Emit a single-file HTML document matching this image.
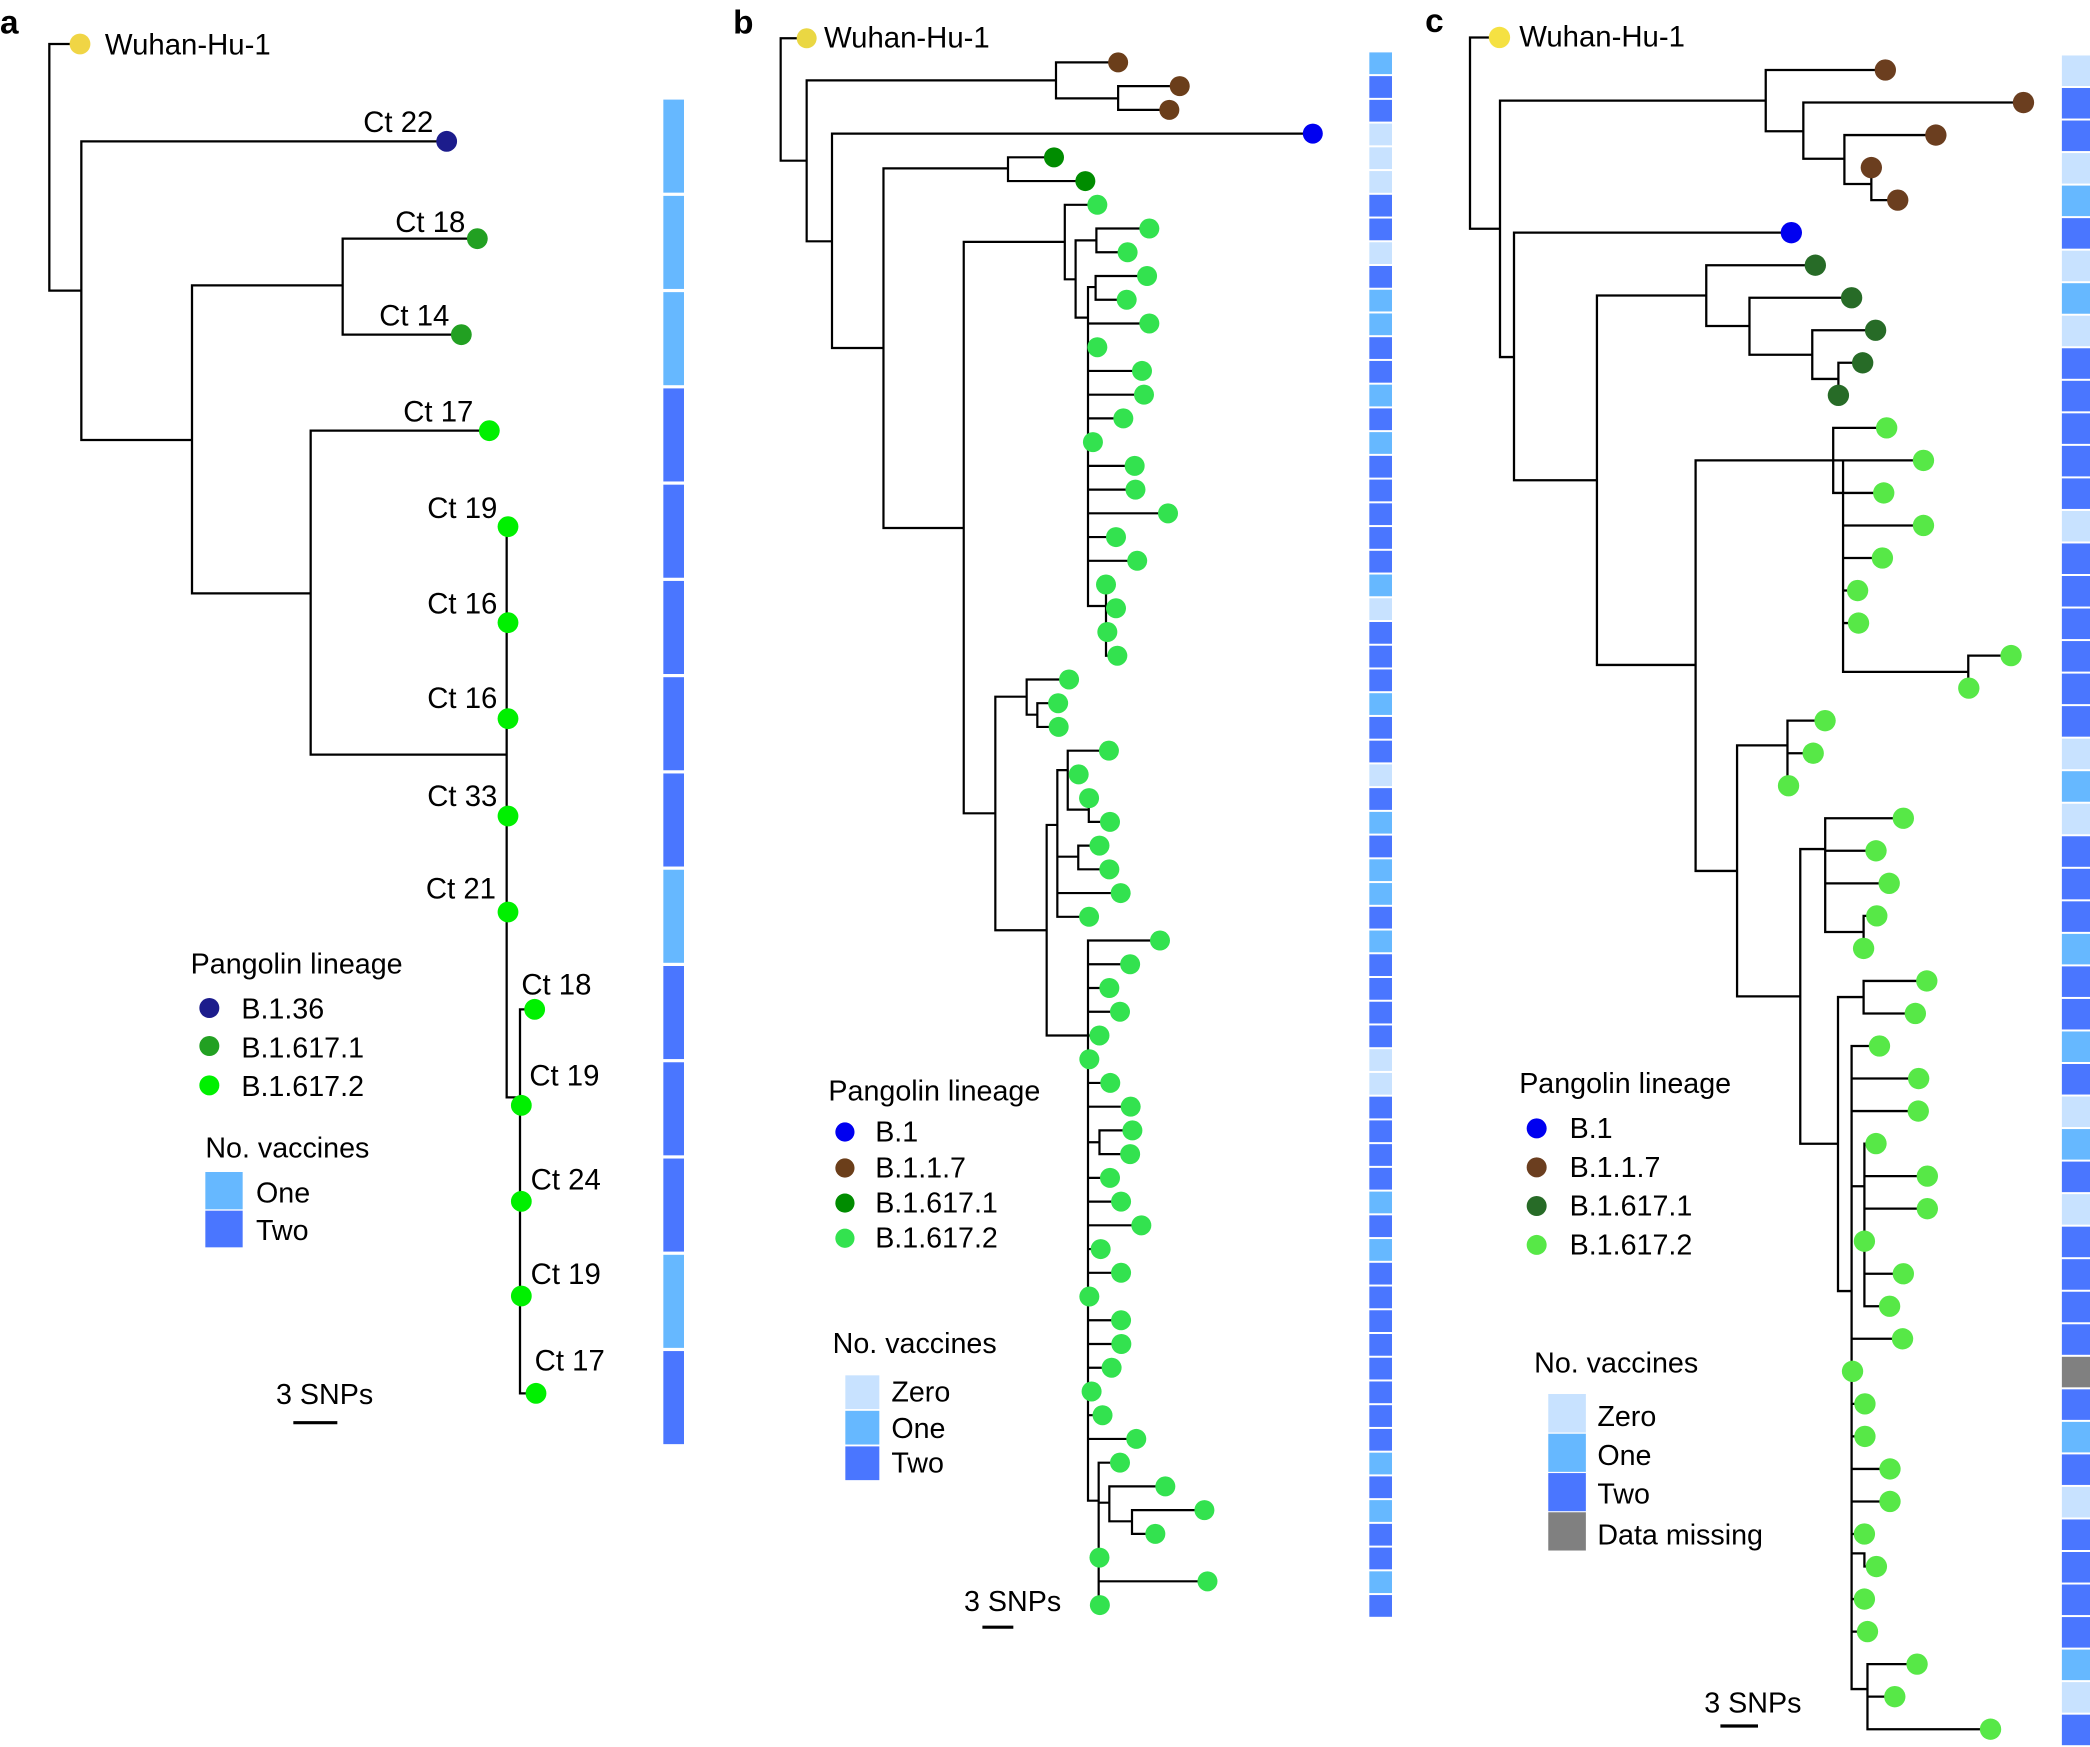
<!DOCTYPE html>
<html><head><meta charset="utf-8"><style>
html,body{margin:0;padding:0;background:#fff;}
svg{display:block;}
text{font-family:"Liberation Sans",Arial,sans-serif;fill:#000;}
.t{font-size:22px;}
.l{font-size:21.5px;}
.h{font-size:25px;font-weight:bold;}
.e{text-anchor:end;}
</style></head><body>
<svg width="2090" height="1747" viewBox="0 0 1567.5 1310.25" xmlns="http://www.w3.org/2000/svg">
<rect x="0" y="0" width="1567.5" height="1310.25" fill="#fff"/>
<!-- Panel labels -->
<text class="h" x="0" y="25">a</text>
<text class="h" x="549.8" y="25">b</text>
<text class="h" x="1068.8" y="24">c</text>

<!-- ================= PANEL A ================= -->
<path fill="none" stroke="#000" stroke-width="1.7" stroke-linecap="square" d="M37,33H60 M37,33V218 M37,218H61 M61,106V330 M61,106H335 M61,330H144 M144,214V445 M144,214H257 M257,179V251 M257,179H358 M257,251H346 M144,445H233 M233,323V566 M233,323H367 M233,566H380 M380,395V823 M380,823H390 M390,757V1045 M390,757H401 M390,1045H402"/>
<g>
<circle cx="60" cy="33" r="7.8" fill="#f0d545"/>
<circle cx="335" cy="106" r="7.8" fill="#1c1c8c"/>
<circle cx="358" cy="179" r="7.8" fill="#22a022"/>
<circle cx="346" cy="251" r="7.8" fill="#22a022"/>
<g fill="#00f000">
<circle cx="367" cy="323" r="7.8"/>
<circle cx="381" cy="395" r="7.8"/>
<circle cx="381" cy="467" r="7.8"/>
<circle cx="381" cy="539" r="7.8"/>
<circle cx="381" cy="612" r="7.8"/>
<circle cx="381" cy="684" r="7.8"/>
<circle cx="401" cy="757" r="7.8"/>
<circle cx="391" cy="829" r="7.8"/>
<circle cx="391" cy="901" r="7.8"/>
<circle cx="391" cy="972" r="7.8"/>
<circle cx="402" cy="1045" r="7.8"/>
</g>
</g>
<text class="t" x="78.7" y="41">Wuhan-Hu-1</text>
<text class="t e" x="325" y="99">Ct 22</text>
<text class="t e" x="349" y="174">Ct 18</text>
<text class="t e" x="337" y="244">Ct 14</text>
<text class="t e" x="355" y="316">Ct 17</text>
<text class="t e" x="373" y="388.5">Ct 19</text>
<text class="t e" x="373" y="460">Ct 16</text>
<text class="t e" x="373" y="531">Ct 16</text>
<text class="t e" x="373" y="604.5">Ct 33</text>
<text class="t e" x="372" y="674">Ct 21</text>
<text class="t" x="391" y="746">Ct 18</text>
<text class="t" x="397" y="814">Ct 19</text>
<text class="t" x="398" y="892">Ct 24</text>
<text class="t" x="398" y="963">Ct 19</text>
<text class="t" x="401" y="1028">Ct 17</text>
<!-- legend a -->
<text class="l" x="143" y="730">Pangolin lineage</text>
<circle cx="157" cy="756" r="7.5" fill="#1c1c8c"/>
<circle cx="157" cy="784.5" r="7.5" fill="#22a022"/>
<circle cx="157" cy="814" r="7.5" fill="#00f000"/>
<text class="l" x="181" y="764">B.1.36</text>
<text class="l" x="181" y="793">B.1.617.1</text>
<text class="l" x="181" y="822">B.1.617.2</text>
<text class="l" x="154" y="868">No. vaccines</text>
<rect x="154" y="879" width="28" height="28" fill="#66b8ff"/>
<rect x="154" y="908" width="28" height="27.5" fill="#4a76ff"/>
<text class="l" x="192" y="902">One</text>
<text class="l" x="192" y="930">Two</text>
<text class="l" x="207" y="1053">3 SNPs</text>
<line x1="220" y1="1067" x2="253" y2="1067" stroke="#000" stroke-width="2.4"/>
<!-- vaccine bar a -->
<g>
<rect x="497.5" y="74.7" width="15.5" height="69.8" fill="#66b8ff"/>
<rect x="497.5" y="146.9" width="15.5" height="69.8" fill="#66b8ff"/>
<rect x="497.5" y="219.1" width="15.5" height="69.8" fill="#66b8ff"/>
<rect x="497.5" y="291.3" width="15.5" height="69.8" fill="#4a76ff"/>
<rect x="497.5" y="363.5" width="15.5" height="69.8" fill="#4a76ff"/>
<rect x="497.5" y="435.7" width="15.5" height="69.8" fill="#4a76ff"/>
<rect x="497.5" y="507.9" width="15.5" height="69.8" fill="#4a76ff"/>
<rect x="497.5" y="580.1" width="15.5" height="69.8" fill="#4a76ff"/>
<rect x="497.5" y="652.3" width="15.5" height="69.8" fill="#66b8ff"/>
<rect x="497.5" y="724.5" width="15.5" height="69.8" fill="#4a76ff"/>
<rect x="497.5" y="796.7" width="15.5" height="69.8" fill="#4a76ff"/>
<rect x="497.5" y="868.9" width="15.5" height="69.8" fill="#4a76ff"/>
<rect x="497.5" y="941.1" width="15.5" height="69.8" fill="#66b8ff"/>
<rect x="497.5" y="1013.3" width="15.5" height="69.8" fill="#4a76ff"/>
</g>

<!-- ================= PANEL B ================= -->
<path fill="none" stroke="#000" stroke-width="1.65" stroke-linecap="square" d="M585.5,28.7H605 M585.5,28.7V120.5 M585.5,120.5H605 M605,60.3V181 M605,60.3H792 M792,46.8V73.8 M792,46.8H838.6 M792,73.8H838.6 M838.6,64.6V82.4 M838.6,64.6H884.8 M838.6,82.4H877 M605,181H624 M624,100.2V261 M624,100.2H984.6 M624,261H662.6 M662.6,126.3V396 M662.6,126.3H756 M756,118V135.8 M756,118H790.5 M756,135.8H814 M662.6,396H722.8 M722.8,181.4V610 M722.8,181.4H798.6 M798.6,153.6V209.5 M798.6,153.6H823 M798.6,209.5H806.7 M806.7,180.3V238.2 M806.7,180.3H822.3 M822.3,171.4V189.2 M822.3,171.4H862 M822.3,189.2H845.7 M806.7,238.2H816
M816,215.3V454.5 M816,215.3H821.7 M821.7,207V224.8 M821.7,207H860.3 M821.7,224.8H845 M816,242.6H862 M816,260.4H823 M816,278.2H856.5 M816,296H858 M816,313.8H842.5 M816,331.6H819.7 M816,349.4H851 M816,367.2H851.6 M816,385H876 M816,402.8H837 M816,420.6H852.9
M816,454.5H829.5 M829.5,438.4V491.8 M829.5,456.2H837 M829.5,491.8H838
M722.8,610H746.5 M746.5,522.5V697.7 M746.5,522.5H770 M770,509.6V536 M770,509.6H801.8 M770,536H778 M778,527.4V545.2 M778,527.4H793.6 M778,545.2H794
M746.5,697.7H785 M785,618.7V776.6 M785,618.7H793 M793,577.6V687.6 M793,577.6H800.8 M800.8,563V607.2 M800.8,563H831.7 M800.8,580.8H809 M800.8,607.2H816.6 M816.6,598.6V616.4 M816.6,616.4H832.5 M793,642.5H808.7 M808.7,634.2V652 M808.7,634.2H824.6 M808.7,652H832 M793,669.8H840.5 M793,687.6H816.8
M785,776.6H816 M816,705.4V1125.5 M816,705.4H870 M816,723.2H847.6 M816,741H832 M816,758.8H840 M816,776.6H824.6 M816,812.2H832.7 M816,830H848 M816,856.7H824.6 M824.6,847.8V865.6 M824.6,847.8H849.3 M824.6,865.6H847.6 M816,883.4H832.5 M816,901.2H840.8 M816,919H856 M816,936.8H825.5 M816,954.6H840.8 M816,990.2H840.8 M816,1008H841 M816,1025.8H833.7 M816,1043.6H818.7 M816,1061.4H826.9 M816,1079.2H852.2
M816,1125.5H824 M824,1097V1203.8 M824,1097H840 M824,1127H832 M832,1114.8V1141 M832,1114.8H874 M832,1141H849 M849,1132.6V1150.4 M849,1132.6H903.3 M849,1150.4H866.5 M824,1186H905.6"/>
<circle cx="605" cy="28.7" r="7.5" fill="#ead743"/>
<g fill="#6b3e1a">
<circle cx="838.6" cy="46.8" r="7.5"/><circle cx="884.8" cy="64.6" r="7.5"/><circle cx="877" cy="82.4" r="7.5"/>
</g>
<circle cx="984.6" cy="100.2" r="7.5" fill="#0000f0"/>
<g fill="#008c00"><circle cx="790.5" cy="118" r="7.5"/><circle cx="814" cy="135.8" r="7.5"/></g>
<g fill="#33e24f">
<circle cx="823" cy="153.6" r="7.5"/><circle cx="862" cy="171.4" r="7.5"/><circle cx="845.7" cy="189.2" r="7.5"/><circle cx="860.3" cy="207" r="7.5"/><circle cx="845" cy="224.8" r="7.5"/><circle cx="862" cy="242.6" r="7.5"/><circle cx="823" cy="260.4" r="7.5"/><circle cx="856.5" cy="278.2" r="7.5"/><circle cx="858" cy="296" r="7.5"/><circle cx="842.5" cy="313.8" r="7.5"/><circle cx="819.7" cy="331.6" r="7.5"/><circle cx="851" cy="349.4" r="7.5"/><circle cx="851.6" cy="367.2" r="7.5"/><circle cx="876" cy="385" r="7.5"/><circle cx="837" cy="402.8" r="7.5"/><circle cx="852.9" cy="420.6" r="7.5"/><circle cx="829.5" cy="438.4" r="7.5"/><circle cx="837" cy="456.2" r="7.5"/><circle cx="830.5" cy="474" r="7.5"/><circle cx="838" cy="491.8" r="7.5"/>
<circle cx="801.8" cy="509.6" r="7.5"/><circle cx="793.6" cy="527.4" r="7.5"/><circle cx="794" cy="545.2" r="7.5"/><circle cx="831.7" cy="563" r="7.5"/><circle cx="809" cy="580.8" r="7.5"/><circle cx="816.8" cy="598.6" r="7.5"/><circle cx="832.5" cy="616.4" r="7.5"/><circle cx="824.6" cy="634.2" r="7.5"/><circle cx="832" cy="652" r="7.5"/><circle cx="840.5" cy="669.8" r="7.5"/><circle cx="816.8" cy="687.6" r="7.5"/>
<circle cx="870" cy="705.4" r="7.5"/><circle cx="847.6" cy="723.2" r="7.5"/><circle cx="832" cy="741" r="7.5"/><circle cx="840" cy="758.8" r="7.5"/><circle cx="824.6" cy="776.6" r="7.5"/><circle cx="817" cy="794.4" r="7.5"/><circle cx="832.7" cy="812.2" r="7.5"/><circle cx="848" cy="830" r="7.5"/><circle cx="849.3" cy="847.8" r="7.5"/><circle cx="847.6" cy="865.6" r="7.5"/><circle cx="832.5" cy="883.4" r="7.5"/><circle cx="840.8" cy="901.2" r="7.5"/><circle cx="856" cy="919" r="7.5"/><circle cx="825.5" cy="936.8" r="7.5"/><circle cx="840.8" cy="954.6" r="7.5"/><circle cx="817" cy="972.4" r="7.5"/><circle cx="840.8" cy="990.2" r="7.5"/><circle cx="841" cy="1008" r="7.5"/><circle cx="833.7" cy="1025.8" r="7.5"/><circle cx="818.7" cy="1043.6" r="7.5"/><circle cx="826.9" cy="1061.4" r="7.5"/><circle cx="852.2" cy="1079.2" r="7.5"/><circle cx="840" cy="1097" r="7.5"/><circle cx="874" cy="1114.8" r="7.5"/><circle cx="903.3" cy="1132.6" r="7.5"/><circle cx="866.5" cy="1150.4" r="7.5"/><circle cx="824.6" cy="1168.2" r="7.5"/><circle cx="905.6" cy="1186" r="7.5"/><circle cx="824.9" cy="1203.8" r="7.5"/>
</g>
<text class="t" x="618" y="35.7">Wuhan-Hu-1</text>
<!-- legend b -->
<text class="l" x="621.3" y="825.4">Pangolin lineage</text>
<circle cx="633.7" cy="849" r="7.2" fill="#0000f0"/>
<circle cx="633.7" cy="876" r="7.2" fill="#6b3e1a"/>
<circle cx="633.7" cy="902.3" r="7.2" fill="#008c00"/>
<circle cx="633.7" cy="928.7" r="7.2" fill="#33e24f"/>
<text class="l" x="656.4" y="856">B.1</text>
<text class="l" x="656.4" y="883">B.1.1.7</text>
<text class="l" x="656.4" y="909.3">B.1.617.1</text>
<text class="l" x="656.4" y="935.6">B.1.617.2</text>
<text class="l" x="624.5" y="1014.6">No. vaccines</text>
<rect x="634" y="1031.5" width="25.5" height="25.3" fill="#c8e2ff"/>
<rect x="634" y="1058.1" width="25.5" height="25.3" fill="#66b8ff"/>
<rect x="634" y="1084.8" width="25.5" height="25.3" fill="#4a76ff"/>
<text class="l" x="668.5" y="1051">Zero</text>
<text class="l" x="668.5" y="1078.6">One</text>
<text class="l" x="668.5" y="1104.5">Two</text>
<text class="l" x="723" y="1208.3">3 SNPs</text>
<line x1="736.8" y1="1220.4" x2="760" y2="1220.4" stroke="#000" stroke-width="2.4"/>
<!-- vaccine bar b -->
<g>
<rect x="1027" y="39.3" width="17" height="16.3" fill="#66b8ff"/>
<rect x="1027" y="57.1" width="17" height="16.3" fill="#4a76ff"/>
<rect x="1027" y="74.9" width="17" height="16.3" fill="#4a76ff"/>
<rect x="1027" y="92.7" width="17" height="16.3" fill="#c8e2ff"/>
<rect x="1027" y="110.5" width="17" height="16.3" fill="#c8e2ff"/>
<rect x="1027" y="128.3" width="17" height="16.3" fill="#c8e2ff"/>
<rect x="1027" y="146.1" width="17" height="16.3" fill="#4a76ff"/>
<rect x="1027" y="163.9" width="17" height="16.3" fill="#4a76ff"/>
<rect x="1027" y="181.7" width="17" height="16.3" fill="#c8e2ff"/>
<rect x="1027" y="199.5" width="17" height="16.3" fill="#4a76ff"/>
<rect x="1027" y="217.3" width="17" height="16.3" fill="#66b8ff"/>
<rect x="1027" y="235.1" width="17" height="16.3" fill="#66b8ff"/>
<rect x="1027" y="252.9" width="17" height="16.3" fill="#4a76ff"/>
<rect x="1027" y="270.7" width="17" height="16.3" fill="#4a76ff"/>
<rect x="1027" y="288.5" width="17" height="16.3" fill="#66b8ff"/>
<rect x="1027" y="306.3" width="17" height="16.3" fill="#4a76ff"/>
<rect x="1027" y="324.1" width="17" height="16.3" fill="#66b8ff"/>
<rect x="1027" y="341.9" width="17" height="16.3" fill="#4a76ff"/>
<rect x="1027" y="359.7" width="17" height="16.3" fill="#4a76ff"/>
<rect x="1027" y="377.5" width="17" height="16.3" fill="#4a76ff"/>
<rect x="1027" y="395.3" width="17" height="16.3" fill="#4a76ff"/>
<rect x="1027" y="413.1" width="17" height="16.3" fill="#4a76ff"/>
<rect x="1027" y="430.9" width="17" height="16.3" fill="#66b8ff"/>
<rect x="1027" y="448.7" width="17" height="16.3" fill="#c8e2ff"/>
<rect x="1027" y="466.5" width="17" height="16.3" fill="#4a76ff"/>
<rect x="1027" y="484.3" width="17" height="16.3" fill="#4a76ff"/>
<rect x="1027" y="502.1" width="17" height="16.3" fill="#4a76ff"/>
<rect x="1027" y="519.9" width="17" height="16.3" fill="#66b8ff"/>
<rect x="1027" y="537.7" width="17" height="16.3" fill="#4a76ff"/>
<rect x="1027" y="555.5" width="17" height="16.3" fill="#4a76ff"/>
<rect x="1027" y="573.3" width="17" height="16.3" fill="#c8e2ff"/>
<rect x="1027" y="591.1" width="17" height="16.3" fill="#4a76ff"/>
<rect x="1027" y="608.9" width="17" height="16.3" fill="#66b8ff"/>
<rect x="1027" y="626.7" width="17" height="16.3" fill="#4a76ff"/>
<rect x="1027" y="644.5" width="17" height="16.3" fill="#66b8ff"/>
<rect x="1027" y="662.3" width="17" height="16.3" fill="#66b8ff"/>
<rect x="1027" y="680.1" width="17" height="16.3" fill="#4a76ff"/>
<rect x="1027" y="697.9" width="17" height="16.3" fill="#66b8ff"/>
<rect x="1027" y="715.7" width="17" height="16.3" fill="#4a76ff"/>
<rect x="1027" y="733.5" width="17" height="16.3" fill="#4a76ff"/>
<rect x="1027" y="751.3" width="17" height="16.3" fill="#4a76ff"/>
<rect x="1027" y="769.1" width="17" height="16.3" fill="#4a76ff"/>
<rect x="1027" y="786.9" width="17" height="16.3" fill="#c8e2ff"/>
<rect x="1027" y="804.7" width="17" height="16.3" fill="#c8e2ff"/>
<rect x="1027" y="822.5" width="17" height="16.3" fill="#4a76ff"/>
<rect x="1027" y="840.3" width="17" height="16.3" fill="#4a76ff"/>
<rect x="1027" y="858.1" width="17" height="16.3" fill="#4a76ff"/>
<rect x="1027" y="875.9" width="17" height="16.3" fill="#4a76ff"/>
<rect x="1027" y="893.7" width="17" height="16.3" fill="#66b8ff"/>
<rect x="1027" y="911.5" width="17" height="16.3" fill="#4a76ff"/>
<rect x="1027" y="929.3" width="17" height="16.3" fill="#66b8ff"/>
<rect x="1027" y="947.1" width="17" height="16.3" fill="#4a76ff"/>
<rect x="1027" y="964.9" width="17" height="16.3" fill="#4a76ff"/>
<rect x="1027" y="982.7" width="17" height="16.3" fill="#4a76ff"/>
<rect x="1027" y="1000.5" width="17" height="16.3" fill="#4a76ff"/>
<rect x="1027" y="1018.3" width="17" height="16.3" fill="#4a76ff"/>
<rect x="1027" y="1036.1" width="17" height="16.3" fill="#4a76ff"/>
<rect x="1027" y="1053.9" width="17" height="16.3" fill="#4a76ff"/>
<rect x="1027" y="1071.7" width="17" height="16.3" fill="#4a76ff"/>
<rect x="1027" y="1089.5" width="17" height="16.3" fill="#66b8ff"/>
<rect x="1027" y="1107.3" width="17" height="16.3" fill="#4a76ff"/>
<rect x="1027" y="1125.1" width="17" height="16.3" fill="#66b8ff"/>
<rect x="1027" y="1142.9" width="17" height="16.3" fill="#4a76ff"/>
<rect x="1027" y="1160.7" width="17" height="16.3" fill="#4a76ff"/>
<rect x="1027" y="1178.5" width="17" height="16.3" fill="#66b8ff"/>
<rect x="1027" y="1196.3" width="17" height="16.3" fill="#4a76ff"/>
</g>

<!-- ================= PANEL C ================= -->
<path fill="none" stroke="#000" stroke-width="1.7" stroke-linecap="square" d="M1102.5,28.1H1124.6 M1102.5,28.1V171.6 M1102.5,171.6H1125 M1125,75.5V267.8 M1125,75.5H1324.3 M1324.3,52.5V98.4 M1324.3,52.5H1414 M1324.3,98.4H1352.5 M1352.5,76.9V119.1 M1352.5,76.9H1517.6 M1352.5,119.1H1383.3 M1383.3,101.3V138 M1383.3,101.3H1451.9 M1383.3,138H1403.5 M1403.5,125.7V150.1 M1403.5,150.1H1423.3
M1125,267.8H1135.5 M1135.5,174.5V360.2 M1135.5,174.5H1343.5 M1135.5,360.2H1197.7 M1197.7,221.6V498.7 M1197.7,221.6H1279.7 M1279.7,198.9V244.5 M1279.7,198.9H1361.5 M1279.7,244.5H1312.1 M1312.1,223.3V266.1 M1312.1,223.3H1388.7 M1312.1,266.1H1359.2 M1359.2,247.7V284.2 M1359.2,247.7H1406.7 M1359.2,284.2H1378.8 M1378.8,272.1V296.5 M1378.8,272.1H1397
M1197.7,498.7H1271.7 M1271.7,345.3V653.2 M1271.7,345.3H1442.6 M1374.9,320.9V369.7 M1374.9,320.9H1415 M1374.9,369.7H1412.8 M1382.3,345.3V503.9 M1382.3,394.1H1442.6 M1382.3,418.5H1411.8 M1382.3,442.9H1393.2 M1382.3,467.3H1393.9 M1382.3,503.9H1476.2 M1476.2,491.7V516.1 M1476.2,491.7H1508.3
M1271.7,653.2H1302.8 M1302.8,559V747.3 M1302.8,559H1340.6 M1340.6,540.5V589.3 M1340.6,540.5H1368.8 M1340.6,564.9H1359.9 M1302.8,747.3H1350.2 M1350.2,636.8V857.8 M1350.2,636.8H1368.9 M1368.9,613.7V699 M1368.9,613.7H1427.5 M1368.9,638.1H1407 M1368.9,662.5H1416.9 M1368.9,699H1397.7 M1397.7,686.9V711.3 M1397.7,686.9H1407.6
M1350.2,857.8H1378.5 M1378.5,747.8V968.3 M1378.5,747.8H1397.7 M1397.7,735.7V760.1 M1397.7,735.7H1445.1 M1397.7,760.1H1436.5 M1378.5,968.3H1388.7
M1388.7,784.5V1266.8 M1388.7,784.5H1409.6 M1388.7,808.9H1439 M1388.7,833.3H1438.7 M1388.7,889.7H1398.3 M1398.3,857.7V979.7 M1398.3,857.7H1407 M1398.3,882.1H1445.5 M1398.3,906.5H1445.5 M1398.3,955.3H1427.5 M1398.3,979.7H1417.2 M1388.7,1004.1H1426.9 M1388.7,1052.9H1398.7 M1388.7,1077.3H1398.7 M1388.7,1101.7H1417.5 M1388.7,1126.1H1417.5 M1388.7,1150.5H1398.3 M1388.7,1165H1398.3V1174.9H1407.3 M1388.7,1199.3H1398.3 M1388.7,1223.7H1400.6
M1388.7,1266.8H1400.6 M1400.6,1248.1V1296.9 M1400.6,1248.1H1437.8 M1400.6,1272.5H1421.1 M1400.6,1296.9H1492.9"/>
<circle cx="1124.6" cy="28.1" r="8" fill="#f5e142"/>
<g fill="#6b3e1f">
<circle cx="1414" cy="52.5" r="8"/><circle cx="1517.6" cy="76.9" r="8"/><circle cx="1451.9" cy="101.3" r="8"/><circle cx="1403.5" cy="125.7" r="8"/><circle cx="1423.3" cy="150.1" r="8"/>
</g>
<circle cx="1343.5" cy="174.5" r="8" fill="#0000f0"/>
<g fill="#276b27">
<circle cx="1361.5" cy="198.9" r="8"/><circle cx="1388.7" cy="223.3" r="8"/><circle cx="1406.7" cy="247.7" r="8"/><circle cx="1397" cy="272.1" r="8"/><circle cx="1378.8" cy="296.5" r="8"/>
</g>
<g fill="#57e847">
<circle cx="1415" cy="320.9" r="8"/><circle cx="1442.6" cy="345.3" r="8"/><circle cx="1412.8" cy="369.7" r="8"/><circle cx="1442.6" cy="394.1" r="8"/><circle cx="1411.8" cy="418.5" r="8"/><circle cx="1393.2" cy="442.9" r="8"/><circle cx="1393.9" cy="467.3" r="8"/><circle cx="1508.3" cy="491.7" r="8"/><circle cx="1476.6" cy="516.1" r="8"/>
<circle cx="1368.8" cy="540.5" r="8"/><circle cx="1359.9" cy="564.9" r="8"/><circle cx="1341.4" cy="589.3" r="8"/><circle cx="1427.5" cy="613.7" r="8"/><circle cx="1407" cy="638.1" r="8"/><circle cx="1416.9" cy="662.5" r="8"/><circle cx="1407.6" cy="686.9" r="8"/><circle cx="1397.7" cy="711.3" r="8"/><circle cx="1445.1" cy="735.7" r="8"/><circle cx="1436.5" cy="760.1" r="8"/>
<circle cx="1409.6" cy="784.5" r="8"/><circle cx="1439" cy="808.9" r="8"/><circle cx="1438.7" cy="833.3" r="8"/><circle cx="1407" cy="857.7" r="8"/><circle cx="1445.5" cy="882.1" r="8"/><circle cx="1445.5" cy="906.5" r="8"/><circle cx="1398.3" cy="930.9" r="8"/><circle cx="1427.5" cy="955.3" r="8"/><circle cx="1417.2" cy="979.7" r="8"/><circle cx="1426.9" cy="1004.1" r="8"/><circle cx="1389.4" cy="1028.5" r="8"/><circle cx="1398.7" cy="1052.9" r="8"/><circle cx="1398.7" cy="1077.3" r="8"/><circle cx="1417.5" cy="1101.7" r="8"/><circle cx="1417.5" cy="1126.1" r="8"/><circle cx="1398.3" cy="1150.5" r="8"/><circle cx="1407.3" cy="1174.9" r="8"/><circle cx="1398.3" cy="1199.3" r="8"/><circle cx="1400.6" cy="1223.7" r="8"/><circle cx="1437.8" cy="1248.1" r="8"/><circle cx="1421.1" cy="1272.5" r="8"/><circle cx="1492.9" cy="1296.9" r="8"/>
</g>
<text class="t" x="1139.4" y="35">Wuhan-Hu-1</text>
<!-- legend c -->
<text class="l" x="1139.4" y="819.6">Pangolin lineage</text>
<circle cx="1152.5" cy="846.3" r="7.5" fill="#0000f0"/>
<circle cx="1152.5" cy="875.5" r="7.5" fill="#6b3e1f"/>
<circle cx="1152.5" cy="904.5" r="7.5" fill="#276b27"/>
<circle cx="1152.5" cy="933.7" r="7.5" fill="#57e847"/>
<text class="l" x="1177.2" y="853.5">B.1</text>
<text class="l" x="1177.2" y="882.7">B.1.1.7</text>
<text class="l" x="1177.2" y="911.7">B.1.617.1</text>
<text class="l" x="1177.2" y="941">B.1.617.2</text>
<text class="l" x="1150.6" y="1029.5">No. vaccines</text>
<rect x="1161.2" y="1045.5" width="28.2" height="28.9" fill="#c8e2ff"/>
<rect x="1161.2" y="1075.3" width="28.2" height="28.6" fill="#66b8ff"/>
<rect x="1161.2" y="1104.8" width="28.2" height="28.6" fill="#4a76ff"/>
<rect x="1161.2" y="1134.2" width="28.2" height="28.7" fill="#808080"/>
<text class="l" x="1198" y="1069.4">Zero</text>
<text class="l" x="1198" y="1098.8">One</text>
<text class="l" x="1198" y="1127.8">Two</text>
<text class="l" x="1198" y="1158.4">Data missing</text>
<text class="l" x="1278.2" y="1284.2">3 SNPs</text>
<line x1="1290.3" y1="1294.5" x2="1318.5" y2="1294.5" stroke="#000" stroke-width="2.4"/>
<!-- vaccine bar c -->
<g>
<rect x="1546.4" y="41.6" width="21.1" height="22.9" fill="#c8e2ff"/>
<rect x="1546.4" y="66" width="21.1" height="22.9" fill="#4a76ff"/>
<rect x="1546.4" y="90.4" width="21.1" height="22.9" fill="#4a76ff"/>
<rect x="1546.4" y="114.8" width="21.1" height="22.9" fill="#c8e2ff"/>
<rect x="1546.4" y="139.2" width="21.1" height="22.9" fill="#66b8ff"/>
<rect x="1546.4" y="163.6" width="21.1" height="22.9" fill="#4a76ff"/>
<rect x="1546.4" y="188" width="21.1" height="22.9" fill="#c8e2ff"/>
<rect x="1546.4" y="212.4" width="21.1" height="22.9" fill="#66b8ff"/>
<rect x="1546.4" y="236.8" width="21.1" height="22.9" fill="#c8e2ff"/>
<rect x="1546.4" y="261.2" width="21.1" height="22.9" fill="#4a76ff"/>
<rect x="1546.4" y="285.6" width="21.1" height="22.9" fill="#4a76ff"/>
<rect x="1546.4" y="310" width="21.1" height="22.9" fill="#4a76ff"/>
<rect x="1546.4" y="334.4" width="21.1" height="22.9" fill="#4a76ff"/>
<rect x="1546.4" y="358.8" width="21.1" height="22.9" fill="#4a76ff"/>
<rect x="1546.4" y="383.2" width="21.1" height="22.9" fill="#c8e2ff"/>
<rect x="1546.4" y="407.6" width="21.1" height="22.9" fill="#4a76ff"/>
<rect x="1546.4" y="432" width="21.1" height="22.9" fill="#4a76ff"/>
<rect x="1546.4" y="456.4" width="21.1" height="22.9" fill="#4a76ff"/>
<rect x="1546.4" y="480.8" width="21.1" height="22.9" fill="#4a76ff"/>
<rect x="1546.4" y="505.2" width="21.1" height="22.9" fill="#4a76ff"/>
<rect x="1546.4" y="529.6" width="21.1" height="22.9" fill="#4a76ff"/>
<rect x="1546.4" y="554" width="21.1" height="22.9" fill="#c8e2ff"/>
<rect x="1546.4" y="578.4" width="21.1" height="22.9" fill="#66b8ff"/>
<rect x="1546.4" y="602.8" width="21.1" height="22.9" fill="#c8e2ff"/>
<rect x="1546.4" y="627.2" width="21.1" height="22.9" fill="#4a76ff"/>
<rect x="1546.4" y="651.6" width="21.1" height="22.9" fill="#4a76ff"/>
<rect x="1546.4" y="676" width="21.1" height="22.9" fill="#4a76ff"/>
<rect x="1546.4" y="700.4" width="21.1" height="22.9" fill="#66b8ff"/>
<rect x="1546.4" y="724.8" width="21.1" height="22.9" fill="#4a76ff"/>
<rect x="1546.4" y="749.2" width="21.1" height="22.9" fill="#4a76ff"/>
<rect x="1546.4" y="773.6" width="21.1" height="22.9" fill="#66b8ff"/>
<rect x="1546.4" y="798" width="21.1" height="22.9" fill="#4a76ff"/>
<rect x="1546.4" y="822.4" width="21.1" height="22.9" fill="#c8e2ff"/>
<rect x="1546.4" y="846.8" width="21.1" height="22.9" fill="#66b8ff"/>
<rect x="1546.4" y="871.2" width="21.1" height="22.9" fill="#4a76ff"/>
<rect x="1546.4" y="895.6" width="21.1" height="22.9" fill="#c8e2ff"/>
<rect x="1546.4" y="920" width="21.1" height="22.9" fill="#4a76ff"/>
<rect x="1546.4" y="944.4" width="21.1" height="22.9" fill="#4a76ff"/>
<rect x="1546.4" y="968.8" width="21.1" height="22.9" fill="#4a76ff"/>
<rect x="1546.4" y="993.2" width="21.1" height="22.9" fill="#4a76ff"/>
<rect x="1546.4" y="1017.6" width="21.1" height="22.9" fill="#808080"/>
<rect x="1546.4" y="1042" width="21.1" height="22.9" fill="#4a76ff"/>
<rect x="1546.4" y="1066.4" width="21.1" height="22.9" fill="#66b8ff"/>
<rect x="1546.4" y="1090.8" width="21.1" height="22.9" fill="#4a76ff"/>
<rect x="1546.4" y="1115.2" width="21.1" height="22.9" fill="#c8e2ff"/>
<rect x="1546.4" y="1139.6" width="21.1" height="22.9" fill="#4a76ff"/>
<rect x="1546.4" y="1164" width="21.1" height="22.9" fill="#4a76ff"/>
<rect x="1546.4" y="1188.4" width="21.1" height="22.9" fill="#4a76ff"/>
<rect x="1546.4" y="1212.8" width="21.1" height="22.9" fill="#4a76ff"/>
<rect x="1546.4" y="1237.2" width="21.1" height="22.9" fill="#66b8ff"/>
<rect x="1546.4" y="1261.6" width="21.1" height="22.9" fill="#c8e2ff"/>
<rect x="1546.4" y="1286" width="21.1" height="22.9" fill="#4a76ff"/>
</g>
</svg>
</body></html>
